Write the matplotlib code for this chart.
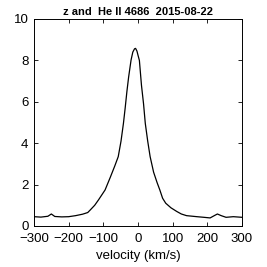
import numpy as np
import matplotlib.pyplot as plt

plt.rcParams['font.family'] = ['Liberation Sans', 'DejaVu Sans']

# velocity (km/s) and normalised flux
velocity = [-300, -280, -260, -250, -240, -220, -200, -180, -160, -145, -138,
            -125, -114, -95, -80, -67, -57, -49, -42, -37, -32, -27, -20,
            -15, -10, -7, -3, 0, 4, 10, 16, 21, 28, 35, 45, 55, 63, 71, 80,
            95, 112, 125, 140, 170, 190, 208, 220, 229, 240, 254, 275, 300]
flux = [0.45, 0.43, 0.47, 0.58, 0.46, 0.44, 0.45, 0.50, 0.57, 0.65, 0.77,
        1.00, 1.26, 1.74, 2.35, 2.90, 3.35, 4.10, 4.96, 5.70, 6.50, 7.20, 8.02,
        8.40, 8.56, 8.58, 8.45, 8.25, 8.00, 6.80, 5.90, 4.96, 4.10, 3.35, 2.60,
        2.10, 1.74, 1.34, 1.10, 0.88, 0.70, 0.58, 0.50, 0.45, 0.42, 0.39, 0.50,
        0.58, 0.50, 0.42, 0.45, 0.42]

xticks = [-300, -200, -100, 0, 100, 200, 300]
yticks = [0, 2, 4, 6, 8, 10]

fig = plt.figure(figsize=(2.67, 2.67), dpi=100)
ax = fig.add_axes([34 / 267, 41 / 267, 208 / 267, 207 / 267])

ax.plot(velocity, flux, color="black", lw=0.9)

ax.set_xlim(-300, 300)
ax.set_ylim(0, 10)
ax.set_xticks(xticks)
ax.set_yticks(yticks)
ax.tick_params(direction="in", length=3, width=0.6, labelsize=9.5,
               top=True, right=True)
ax.tick_params(axis="x", pad=5)
ax.tick_params(axis="y", pad=4)
for s in ax.spines.values():
    s.set_linewidth(0.7)

ax.set_xlabel("velocity (km/s)", fontsize=9.5, labelpad=4)
ax.set_title("z and  He II 4686  2015-08-22", fontsize=8, fontweight="bold",
             pad=3)

fig.savefig("out.png", dpi=100)
